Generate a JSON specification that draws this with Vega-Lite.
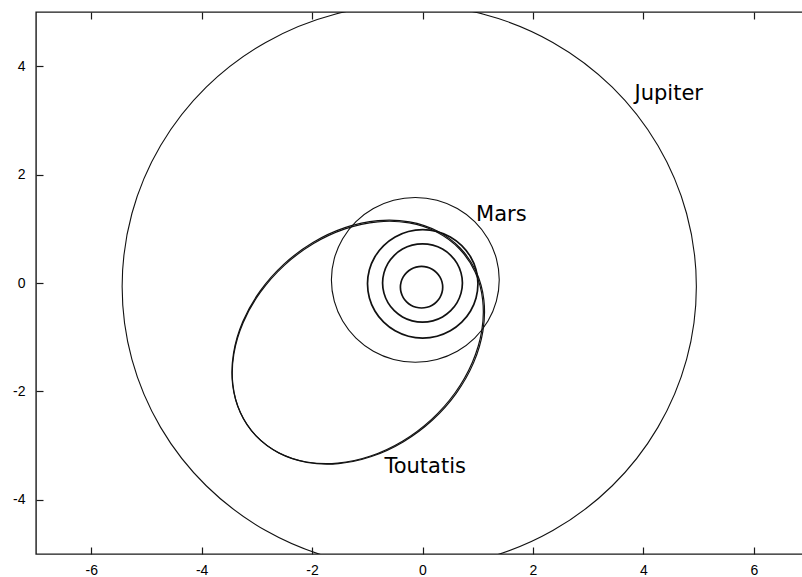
{
  "$schema": "https://vega.github.io/schema/vega-lite/v6.json",
  "width": 773,
  "height": 542,
  "autosize": {"type": "none"},
  "padding": {"left": 36, "top": 12, "right": 0, "bottom": 23},
  "background": "white",
  "config": {
    "view": {"stroke": "#1a1a1a", "strokeWidth": 1.4},
    "axis": {
      "domain": false,
      "grid": false,
      "ticks": true,
      "tickSize": -7,
      "tickWidth": 1.2,
      "tickColor": "#1a1a1a",
      "labelFont": "Liberation Sans",
      "labelFontSize": 14,
      "labelColor": "#000000",
      "labelPadding": 18,
      "labelExpr": "'' + datum.value",
      "title": null
    }
  },
  "datasets": {
    "orbits": [
      {"body":"Mercury","k":0,"x":0.366,"y":-0.078},{"body":"Mercury","k":1,"x":0.353,"y":0.021},{"body":"Mercury","k":2,"x":0.315,"y":0.114},{"body":"Mercury","k":3,"x":0.254,"y":0.193},{"body":"Mercury","k":4,"x":0.175,"y":0.254},{"body":"Mercury","k":5,"x":0.082,"y":0.292},{"body":"Mercury","k":6,"x":-0.017,"y":0.305},{"body":"Mercury","k":7,"x":-0.116,"y":0.292},{"body":"Mercury","k":8,"x":-0.209,"y":0.254},{"body":"Mercury","k":9,"x":-0.288,"y":0.193},{"body":"Mercury","k":10,"x":-0.349,"y":0.114},{"body":"Mercury","k":11,"x":-0.387,"y":0.021},{"body":"Mercury","k":12,"x":-0.400,"y":-0.078},{"body":"Mercury","k":13,"x":-0.387,"y":-0.177},{"body":"Mercury","k":14,"x":-0.349,"y":-0.270},{"body":"Mercury","k":15,"x":-0.288,"y":-0.349},{"body":"Mercury","k":16,"x":-0.209,"y":-0.410},{"body":"Mercury","k":17,"x":-0.116,"y":-0.448},{"body":"Mercury","k":18,"x":-0.017,"y":-0.461},{"body":"Mercury","k":19,"x":0.082,"y":-0.448},{"body":"Mercury","k":20,"x":0.175,"y":-0.410},{"body":"Mercury","k":21,"x":0.254,"y":-0.349},{"body":"Mercury","k":22,"x":0.315,"y":-0.270},{"body":"Mercury","k":23,"x":0.353,"y":-0.177},
      {"body":"Venus","k":0,"x":0.723,"y":0},{"body":"Venus","k":1,"x":0.698,"y":0.187},{"body":"Venus","k":2,"x":0.626,"y":0.362},{"body":"Venus","k":3,"x":0.511,"y":0.511},{"body":"Venus","k":4,"x":0.362,"y":0.626},{"body":"Venus","k":5,"x":0.187,"y":0.698},{"body":"Venus","k":6,"x":0,"y":0.723},{"body":"Venus","k":7,"x":-0.187,"y":0.698},{"body":"Venus","k":8,"x":-0.362,"y":0.626},{"body":"Venus","k":9,"x":-0.511,"y":0.511},{"body":"Venus","k":10,"x":-0.626,"y":0.362},{"body":"Venus","k":11,"x":-0.698,"y":0.187},{"body":"Venus","k":12,"x":-0.723,"y":0},{"body":"Venus","k":13,"x":-0.698,"y":-0.187},{"body":"Venus","k":14,"x":-0.626,"y":-0.362},{"body":"Venus","k":15,"x":-0.511,"y":-0.511},{"body":"Venus","k":16,"x":-0.362,"y":-0.626},{"body":"Venus","k":17,"x":-0.187,"y":-0.698},{"body":"Venus","k":18,"x":0,"y":-0.723},{"body":"Venus","k":19,"x":0.187,"y":-0.698},{"body":"Venus","k":20,"x":0.362,"y":-0.626},{"body":"Venus","k":21,"x":0.511,"y":-0.511},{"body":"Venus","k":22,"x":0.626,"y":-0.362},{"body":"Venus","k":23,"x":0.698,"y":-0.187},
      {"body":"Earth","k":0,"x":1.004,"y":-0.016},{"body":"Earth","k":1,"x":0.970,"y":0.243},{"body":"Earth","k":2,"x":0.870,"y":0.484},{"body":"Earth","k":3,"x":0.711,"y":0.691},{"body":"Earth","k":4,"x":0.504,"y":0.850},{"body":"Earth","k":5,"x":0.263,"y":0.950},{"body":"Earth","k":6,"x":0.004,"y":0.984},{"body":"Earth","k":7,"x":-0.255,"y":0.950},{"body":"Earth","k":8,"x":-0.496,"y":0.850},{"body":"Earth","k":9,"x":-0.703,"y":0.691},{"body":"Earth","k":10,"x":-0.862,"y":0.484},{"body":"Earth","k":11,"x":-0.962,"y":0.243},{"body":"Earth","k":12,"x":-0.996,"y":-0.016},{"body":"Earth","k":13,"x":-0.962,"y":-0.275},{"body":"Earth","k":14,"x":-0.862,"y":-0.516},{"body":"Earth","k":15,"x":-0.703,"y":-0.723},{"body":"Earth","k":16,"x":-0.496,"y":-0.882},{"body":"Earth","k":17,"x":-0.255,"y":-0.982},{"body":"Earth","k":18,"x":0.004,"y":-1.016},{"body":"Earth","k":19,"x":0.263,"y":-0.982},{"body":"Earth","k":20,"x":0.504,"y":-0.882},{"body":"Earth","k":21,"x":0.711,"y":-0.723},{"body":"Earth","k":22,"x":0.870,"y":-0.516},{"body":"Earth","k":23,"x":0.970,"y":-0.275},
      {"body":"Mars","k":0,"x":1.390,"y":0.058},{"body":"Mars","k":1,"x":1.338,"y":0.451},{"body":"Mars","k":2,"x":1.186,"y":0.818},{"body":"Mars","k":3,"x":0.945,"y":1.133},{"body":"Mars","k":4,"x":0.630,"y":1.374},{"body":"Mars","k":5,"x":0.263,"y":1.526},{"body":"Mars","k":6,"x":-0.130,"y":1.578},{"body":"Mars","k":7,"x":-0.523,"y":1.526},{"body":"Mars","k":8,"x":-0.890,"y":1.374},{"body":"Mars","k":9,"x":-1.205,"y":1.133},{"body":"Mars","k":10,"x":-1.446,"y":0.818},{"body":"Mars","k":11,"x":-1.598,"y":0.451},{"body":"Mars","k":12,"x":-1.650,"y":0.058},{"body":"Mars","k":13,"x":-1.598,"y":-0.335},{"body":"Mars","k":14,"x":-1.446,"y":-0.702},{"body":"Mars","k":15,"x":-1.205,"y":-1.017},{"body":"Mars","k":16,"x":-0.890,"y":-1.258},{"body":"Mars","k":17,"x":-0.523,"y":-1.410},{"body":"Mars","k":18,"x":-0.130,"y":-1.462},{"body":"Mars","k":19,"x":0.263,"y":-1.410},{"body":"Mars","k":20,"x":0.630,"y":-1.258},{"body":"Mars","k":21,"x":0.945,"y":-1.017},{"body":"Mars","k":22,"x":1.186,"y":-0.702},{"body":"Mars","k":23,"x":1.338,"y":-0.335},
      {"body":"Jupiter","k":0,"x":4.960,"y":-0.064},{"body":"Jupiter","k":1,"x":4.783,"y":1.282},{"body":"Jupiter","k":2,"x":4.263,"y":2.536},{"body":"Jupiter","k":3,"x":3.437,"y":3.613},{"body":"Jupiter","k":4,"x":2.360,"y":4.439},{"body":"Jupiter","k":5,"x":1.106,"y":4.959},{"body":"Jupiter","k":6,"x":-0.240,"y":5.136},{"body":"Jupiter","k":7,"x":-1.586,"y":4.959},{"body":"Jupiter","k":8,"x":-2.840,"y":4.439},{"body":"Jupiter","k":9,"x":-3.917,"y":3.613},{"body":"Jupiter","k":10,"x":-4.743,"y":2.536},{"body":"Jupiter","k":11,"x":-5.263,"y":1.282},{"body":"Jupiter","k":12,"x":-5.440,"y":-0.064},{"body":"Jupiter","k":13,"x":-5.263,"y":-1.410},{"body":"Jupiter","k":14,"x":-4.743,"y":-2.664},{"body":"Jupiter","k":15,"x":-3.917,"y":-3.741},{"body":"Jupiter","k":16,"x":-2.840,"y":-4.567},{"body":"Jupiter","k":17,"x":-1.586,"y":-5.087},{"body":"Jupiter","k":18,"x":-0.240,"y":-5.264},{"body":"Jupiter","k":19,"x":1.106,"y":-5.087},{"body":"Jupiter","k":20,"x":2.360,"y":-4.567},{"body":"Jupiter","k":21,"x":3.437,"y":-3.741},{"body":"Jupiter","k":22,"x":4.263,"y":-2.664},{"body":"Jupiter","k":23,"x":4.783,"y":-1.410},
      {"body":"Toutatis A","k":0,"x":0.686,"y":0.641},{"body":"Toutatis A","k":1,"x":0.275,"y":0.954},{"body":"Toutatis A","k":2,"x":-0.235,"y":1.128},{"body":"Toutatis A","k":3,"x":-0.807,"y":1.151},{"body":"Toutatis A","k":4,"x":-1.404,"y":1.021},{"body":"Toutatis A","k":5,"x":-1.985,"y":0.747},{"body":"Toutatis A","k":6,"x":-2.509,"y":0.348},{"body":"Toutatis A","k":7,"x":-2.942,"y":-0.150},{"body":"Toutatis A","k":8,"x":-3.254,"y":-0.711},{"body":"Toutatis A","k":9,"x":-3.423,"y":-1.298},{"body":"Toutatis A","k":10,"x":-3.439,"y":-1.870},{"body":"Toutatis A","k":11,"x":-3.299,"y":-2.390},{"body":"Toutatis A","k":12,"x":-3.014,"y":-2.821},{"body":"Toutatis A","k":13,"x":-2.603,"y":-3.134},{"body":"Toutatis A","k":14,"x":-2.094,"y":-3.308},{"body":"Toutatis A","k":15,"x":-1.521,"y":-3.331},{"body":"Toutatis A","k":16,"x":-0.924,"y":-3.201},{"body":"Toutatis A","k":17,"x":-0.343,"y":-2.927},{"body":"Toutatis A","k":18,"x":0.181,"y":-2.528},{"body":"Toutatis A","k":19,"x":0.614,"y":-2.031},{"body":"Toutatis A","k":20,"x":0.926,"y":-1.469},{"body":"Toutatis A","k":21,"x":1.095,"y":-0.882},{"body":"Toutatis A","k":22,"x":1.111,"y":-0.310},{"body":"Toutatis A","k":23,"x":0.971,"y":0.210},
      {"body":"Toutatis B","k":0,"x":0.671,"y":0.628},{"body":"Toutatis B","k":1,"x":0.264,"y":0.937},{"body":"Toutatis B","k":2,"x":-0.242,"y":1.108},{"body":"Toutatis B","k":3,"x":-0.810,"y":1.129},{"body":"Toutatis B","k":4,"x":-1.403,"y":0.998},{"body":"Toutatis B","k":5,"x":-1.981,"y":0.724},{"body":"Toutatis B","k":6,"x":-2.503,"y":0.326},{"body":"Toutatis B","k":7,"x":-2.935,"y":-0.170},{"body":"Toutatis B","k":8,"x":-3.247,"y":-0.728},{"body":"Toutatis B","k":9,"x":-3.417,"y":-1.311},{"body":"Toutatis B","k":10,"x":-3.434,"y":-1.880},{"body":"Toutatis B","k":11,"x":-3.297,"y":-2.395},{"body":"Toutatis B","k":12,"x":-3.015,"y":-2.822},{"body":"Toutatis B","k":13,"x":-2.608,"y":-3.131},{"body":"Toutatis B","k":14,"x":-2.103,"y":-3.302},{"body":"Toutatis B","k":15,"x":-1.534,"y":-3.323},{"body":"Toutatis B","k":16,"x":-0.941,"y":-3.192},{"body":"Toutatis B","k":17,"x":-0.363,"y":-2.918},{"body":"Toutatis B","k":18,"x":0.159,"y":-2.520},{"body":"Toutatis B","k":19,"x":0.591,"y":-2.025},{"body":"Toutatis B","k":20,"x":0.902,"y":-1.466},{"body":"Toutatis B","k":21,"x":1.073,"y":-0.883},{"body":"Toutatis B","k":22,"x":1.090,"y":-0.315},{"body":"Toutatis B","k":23,"x":0.953,"y":0.201}
    ],
    "labels": [
      {"name":"Jupiter","x":3.84,"y":3.37},
      {"name":"Mars","x":0.97,"y":1.14},
      {"name":"Toutatis","x":-0.69,"y":-3.51}
    ]
  },
  "layer": [
    {
      "data": {"name": "orbits"},
      "transform": [{"filter": "datum.body === 'Jupiter' || datum.body === 'Mars'"}],
      "mark": {"type": "line", "interpolate": "cardinal-closed", "clip": true, "color": "#111111", "strokeWidth": 1.1},
      "encoding": {
        "x": {"field": "x", "type": "quantitative", "scale": {"domain": [-7, 7], "nice": false, "zero": false},
              "axis": {"orient": "bottom", "values": [-6, -4, -2, 0, 2, 4, 6], "labelPadding": 16}},
        "y": {"field": "y", "type": "quantitative", "scale": {"domain": [-5, 5], "nice": false, "zero": false},
              "axis": {"orient": "left", "values": [-4, -2, 0, 2, 4]}},
        "detail": {"field": "body"},
        "order": {"field": "k", "type": "quantitative"}
      }
    },
    {
      "data": {"name": "orbits"},
      "transform": [{"filter": "datum.body === 'Earth' || datum.body === 'Venus' || datum.body === 'Mercury'"}],
      "mark": {"type": "line", "interpolate": "cardinal-closed", "clip": true, "color": "#111111", "strokeWidth": 1.7},
      "encoding": {
        "x": {"field": "x", "type": "quantitative",
              "axis": {"orient": "top", "values": [-6, -4, -2, 0, 2, 4, 6], "labels": false}},
        "y": {"field": "y", "type": "quantitative",
              "axis": {"orient": "right", "values": [-4, -2, 0, 2, 4], "labels": false}},
        "detail": {"field": "body"},
        "order": {"field": "k", "type": "quantitative"}
      }
    },
    {
      "data": {"name": "orbits"},
      "transform": [{"filter": "datum.body === 'Toutatis A' || datum.body === 'Toutatis B'"}],
      "mark": {"type": "line", "interpolate": "cardinal-closed", "clip": true, "color": "#111111", "strokeWidth": 1.2},
      "encoding": {
        "x": {"field": "x", "type": "quantitative", "axis": null},
        "y": {"field": "y", "type": "quantitative", "axis": null},
        "detail": {"field": "body"},
        "order": {"field": "k", "type": "quantitative"}
      }
    },
    {
      "data": {"name": "labels"},
      "mark": {"type": "text", "font": "DejaVu Sans", "fontSize": 21, "align": "left", "baseline": "alphabetic", "color": "#000000"},
      "encoding": {
        "x": {"field": "x", "type": "quantitative", "axis": null},
        "y": {"field": "y", "type": "quantitative", "axis": null},
        "text": {"field": "name"}
      }
    }
  ],
  "resolve": {"axis": {"x": "independent", "y": "independent"}}
}
